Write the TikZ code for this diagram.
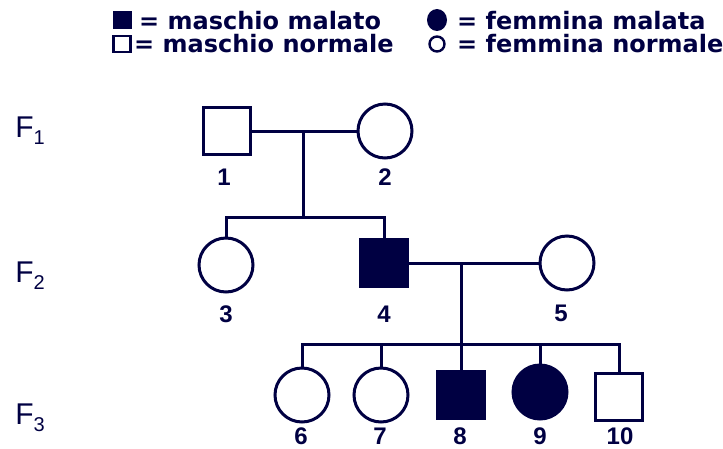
\documentclass[tikz,border=0pt]{standalone}
\usepackage{fontspec}
\setmainfont{Liberation Sans}
\newfontfamily\legfont{DejaVu Sans}
\usetikzlibrary{shapes.geometric}
\definecolor{pednavy}{RGB}{0,0,66}

\tikzset{
  male/.style={draw=pednavy, rectangle, minimum size=47pt, inner sep=0pt, line width=3pt},
  female/.style={draw=pednavy, circle, minimum size=54pt, inner sep=0pt, line width=3pt},
  ill/.style={fill=pednavy},
  link/.style={draw=pednavy, line width=3pt},
  num/.style={text=pednavy, inner sep=0pt, font=\bfseries\fontsize{24}{24}\selectfont},
  gen/.style={text=pednavy, inner sep=0pt, font=\fontsize{30}{30}\selectfont},
  legtext/.style={text=pednavy, inner sep=0pt, anchor=base west, font=\legfont\bfseries\fontsize{24}{24}\selectfont}
}

\newcommand{\gensub}[1]{F\raisebox{-7pt}{\fontsize{20}{20}\selectfont #1}}

\begin{document}
\begin{tikzpicture}[x=1pt, y=-1pt]
    \useasboundingbox (0, 0) rectangle (723, 448);

    \node[rectangle, fill=pednavy, minimum width=19pt, minimum height=18pt, inner sep=0pt] (kmi) at (122, 20) {};
    \node[rectangle, draw=pednavy, line width=2.4pt, minimum width=17pt, minimum height=16pt, inner sep=0pt] (kmn) at (122, 44) {};
    \node[ellipse, fill=pednavy, minimum width=20pt, minimum height=22pt, inner sep=0pt] (kfi) at (437, 20) {};
    \node[circle, draw=pednavy, line width=2.4pt, minimum size=15pt, inner sep=0pt] (kfn) at (437, 44) {};
    \node[legtext] (tmi) at (139, 29) {= maschio malato};
    \node[legtext] (tmn) at (134, 52) {= maschio normale};
    \node[legtext] (tfi) at (457, 29) {= femmina malata};
    \node[legtext] (tfn) at (457, 52) {= femmina normale};

    \node[gen] (g1) at (30, 131) {\gensub{1}};
    \node[gen] (g2) at (30, 276) {\gensub{2}};
    \node[gen] (g3) at (30, 418) {\gensub{3}};

    \node[male] (p1) at (227, 131) {};
    \node[female] (p2) at (385, 131) {};
    \node[female] (p3) at (226, 265) {};
    \node[male, ill] (p4) at (384, 263) {};
    \node[female] (p5) at (567, 263) {};
    \node[female] (p6) at (302, 395) {};
    \node[female] (p7) at (381, 395) {};
    \node[male, ill] (p8) at (461, 395) {};
    \node[female, ill] (p9) at (540, 392) {};
    \node[male] (p10) at (619, 397) {};

    \coordinate (m1) at (303, 131);
    \coordinate (s1) at (303, 217);
    \coordinate (m2) at (461, 263);
    \coordinate (s2) at (461, 344);

    \draw[link] (p1.east) -- (p2.west);
    \draw[link] (m1) -- (s1);
    \draw[link] (p3.north) |- (s1) -| (p4.north);
    \draw[link] (p4.east) -- (p5.west);
    \draw[link] (m2) -- (p8.north);
    \draw[link] (p6.north) |- (s2) -| (p10.north);
    \draw[link] (p7.north) -- (p7.north |- s2);
    \draw[link] (p9.north) -- (p9.north |- s2);

    \node[num] (n1) at (224, 177) {1};
    \node[num] (n2) at (385, 177) {2};
    \node[num] (n3) at (226, 314) {3};
    \node[num] (n4) at (384, 314) {4};
    \node[num] (n5) at (561, 313) {5};
    \node[num] (n6) at (301, 436) {6};
    \node[num] (n7) at (380, 436) {7};
    \node[num] (n8) at (460, 436) {8};
    \node[num] (n9) at (540, 436) {9};
    \node[num] (n10) at (620, 436) {10};
\end{tikzpicture}
\end{document}
